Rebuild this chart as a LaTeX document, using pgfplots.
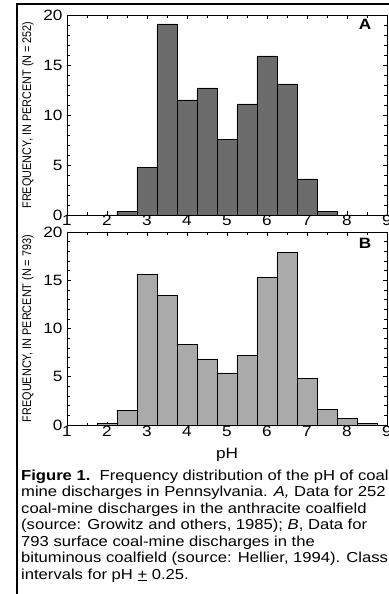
\documentclass[border=0pt]{standalone}
\usepackage{fontspec}
\setmainfont{Liberation Sans}[FakeStretch=1.15]
\newfontfamily\ylfont{Liberation Sans}
\usepackage{graphicx}
\usepackage{pgfplots}
\pgfplotsset{compat=1.18}
\definecolor{barA}{RGB}{108,108,108}
\definecolor{barB}{RGB}{170,170,170}
\pgfplotsset{
  panel/.style={
    scale only axis, width=320bp,
    xmin=1, xmax=9, ymin=0, ymax=20,
    xtick={1,...,9}, ytick={0,5,...,20},
    minor xtick={1.5,2.5,...,8.5}, minor ytick={1,...,19},
    tick align=inside, major tick length=3.5bp, minor tick length=2.5bp,
    every tick/.style={black, line width=0.6pt},
    axis line style={line width=0.9pt},
    /pgf/number format/assume math mode=true,
    ticklabel style={font=\fontsize{15}{15}\selectfont},
    xticklabel style={yshift=3bp},
    yticklabel style={xshift=-1bp},
    ylabel style={at={(axis description cs:-0.122,0.5)}, anchor=center},
  },
}
\begin{document}
\begin{tikzpicture}
\fill[white] (0,0) rectangle (389bp,-594bp);
\draw[line width=2bp] (17bp,-600bp) -- (17bp,-4bp) -- (400bp,-4bp);
% Panel A
\begin{axis}[panel, height=200bp, at={(67bp,-15bp)}, anchor=north west,
  ylabel={\scalebox{1}[1.15]{\ylfont\fontsize{10.9}{11}\selectfont FREQUENCY, IN PERCENT (N = 252)}}]
\addplot[ybar, bar width=0.5, bar shift=0pt, fill=barA, draw=black, line width=0.7pt]
coordinates {(2.5,0.40) (3.0,4.76) (3.5,19.1) (4.0,11.5) (4.5,12.7) (5.0,7.54)
 (5.5,11.1) (6.0,15.9) (6.5,13.1) (7.0,3.6) (7.5,0.40)};
\node[font=\bfseries\fontsize{15}{15}\selectfont] at (axis cs:8.45,19.1) {A};
\end{axis}
% Panel B
\begin{axis}[panel, height=193bp, at={(67bp,-232bp)}, anchor=north west,
  xticklabel style={yshift=-1bp},
  xlabel={pH}, xlabel style={font=\fontsize{15}{15}\selectfont, yshift=-4bp},
  ylabel={\scalebox{1}[1.15]{\ylfont\fontsize{10.9}{11}\selectfont FREQUENCY, IN PERCENT (N = 793)}}]
\addplot[ybar, bar width=0.5, bar shift=0pt, fill=barB, draw=black, line width=0.7pt]
coordinates {(2.0,0.13) (2.5,1.52) (3.0,15.6) (3.5,13.4) (4.0,8.35) (4.5,6.85)
 (5.0,5.4) (5.5,7.25) (6.0,15.3) (6.5,17.85) (7.0,4.8) (7.5,1.65) (8.0,0.65) (8.5,0.13)};
\node[font=\bfseries\fontsize{15}{15}\selectfont] at (axis cs:8.45,18.8) {B};
\end{axis}
% Caption
\begin{scope}[every node/.style={anchor=base west, inner sep=0pt, font=\fontsize{14.5}{16}\selectfont}]
\node at (21bp,-480bp) {\textbf{Figure 1.}\ \ Frequency distribution of the pH of coal};
\node at (21bp,-496.5bp) {mine discharges in Pennsylvania. \textit{A,} Data for 252};
\node at (21bp,-513bp) {coal-mine discharges in the anthracite coalfield};
\node at (21bp,-529.5bp) {(source: Growitz and others, 1985); \textit{B}, Data for};
\node at (21bp,-546bp) {793 surface coal-mine discharges in the};
\node at (21bp,-562.5bp) {bituminous coalfield (source: Hellier, 1994). Class};
\node at (21bp,-579bp) {intervals for pH \underline{+} 0.25.};
\end{scope}
\pgfresetboundingbox
\path (0,0) rectangle (389bp,-594bp);
\end{tikzpicture}
\end{document}
